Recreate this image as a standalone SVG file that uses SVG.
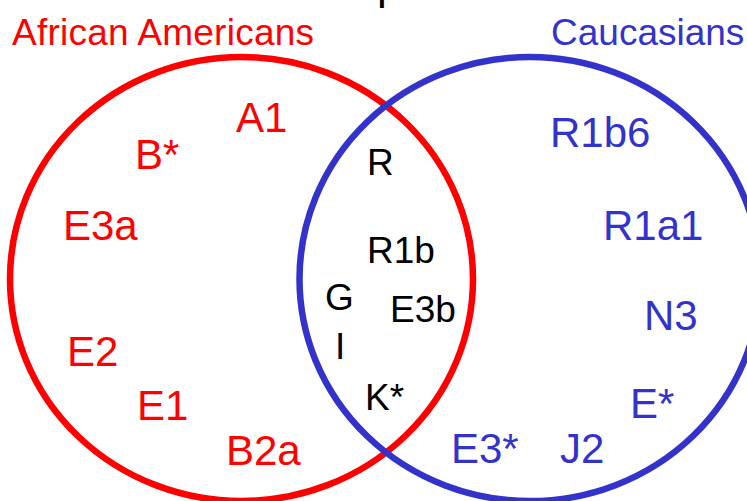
<svg xmlns="http://www.w3.org/2000/svg" width="747" height="501" viewBox="0 0 747 501">
<style>
text{font-family:"Liberation Sans",Arial,sans-serif}
.set{fill:none;stroke-width:6.5}
.red{fill:#FF0000}
.blue{fill:#3333CC}
.blk{fill:#000000}
.big{font-size:42px}
.mid{font-size:37px}
</style>
<rect width="747" height="501" fill="#FFFFFF"/>
<text class="blk" x="377" y="-1" font-size="44">p</text>
<g id="set-african-americans">
<ellipse class="set" cx="241.5" cy="279" rx="231.5" ry="222" stroke="#FF0000"/>
<text class="red mid" x="12" y="45" textLength="302">African Americans</text>
</g>
<g id="set-caucasians">
<ellipse class="set" cx="530" cy="279" rx="230.5" ry="222" stroke="#3333CC"/>
<text class="blue mid" x="551" y="45">Caucasians</text>
</g>
<g id="labels-african">
<text class="red big" x="236" y="132">A1</text>
<text class="red big" x="135" y="169">B*</text>
<text class="red big" x="63" y="240">E3a</text>
<text class="red big" x="67" y="366">E2</text>
<text class="red big" x="137" y="420">E1</text>
<text class="red big" x="226" y="465">B2a</text>
</g>
<g id="labels-caucasian">
<text class="blue big" x="550" y="147">R1b6</text>
<text class="blue big" x="603" y="240">R1a1</text>
<text class="blue big" x="644" y="330">N3</text>
<text class="blue big" x="630" y="418">E*</text>
<text class="blue big" x="451" y="463">E3*</text>
<text class="blue big" x="560" y="463">J2</text>
</g>
<g id="labels-shared">
<text class="blk mid" x="367" y="175">R</text>
<text class="blk mid" x="367" y="263">R1b</text>
<text class="blk mid" x="325" y="310">G</text>
<text class="blk mid" x="390" y="322">E3b</text>
<text class="blk mid" x="335" y="359">I</text>
<text class="blk mid" x="365" y="410">K*</text>
</g>
</svg>
